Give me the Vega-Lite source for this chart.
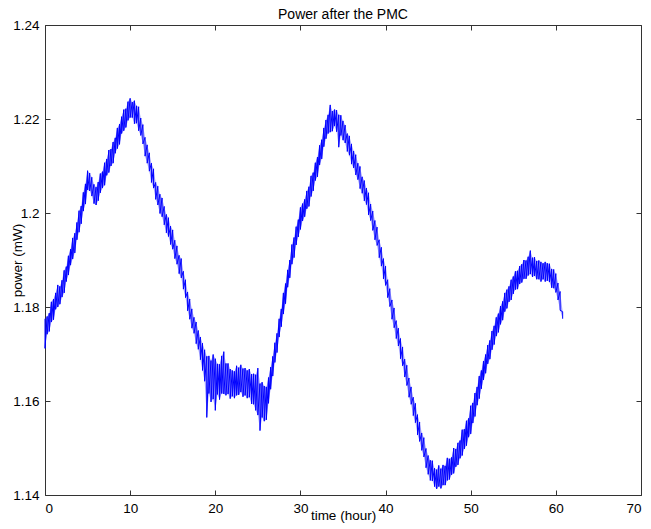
{
  "$schema": "https://vega.github.io/schema/vega-lite/v6.json",
  "width": 596,
  "height": 470,
  "autosize": {"type": "none"},
  "padding": {"left": 45, "top": 25, "right": 10, "bottom": 34},
  "background": "white",
  "title": {"text": "Power after the PMC", "font": "Liberation Sans", "fontSize": 14, "fontWeight": "normal", "color": "black", "offset": -4, "anchor": "middle"},
  "config": {
    "view": {"stroke": "#333333", "strokeWidth": 1},
    "axis": {"grid": false, "domain": false, "tickColor": "#333333", "tickSize": 5, "tickWidth": 1, "labelFont": "Liberation Sans", "labelFontSize": 13.5, "labelColor": "black", "titleFont": "Liberation Sans", "titleFontSize": 13.5, "titleFontWeight": "normal", "titleColor": "black"}
  },
  "data": {"values": [
{"t":0,"lo":1.1712,"hi":1.1775},{"t":0.25,"lo":1.1742,"hi":1.178},{"t":0.5,"lo":1.1748,"hi":1.1787},{"t":0.75,"lo":1.1768,"hi":1.1811},{"t":1,"lo":1.1773,"hi":1.1817},{"t":1.25,"lo":1.1795,"hi":1.183},{"t":1.5,"lo":1.18,"hi":1.1847},{"t":1.75,"lo":1.1806,"hi":1.1844},{"t":2,"lo":1.1821,"hi":1.1857},{"t":2.25,"lo":1.183,"hi":1.1878},{"t":2.5,"lo":1.1854,"hi":1.1886},{"t":2.75,"lo":1.1868,"hi":1.1909},{"t":3,"lo":1.1889,"hi":1.1923},{"t":3.25,"lo":1.1902,"hi":1.1947},{"t":3.5,"lo":1.1915,"hi":1.1957},{"t":3.75,"lo":1.1943,"hi":1.198},{"t":4,"lo":1.1959,"hi":1.2005},{"t":4.25,"lo":1.1977,"hi":1.2015},{"t":4.5,"lo":1.2004,"hi":1.2044},{"t":4.75,"lo":1.2019,"hi":1.2062},{"t":5,"lo":1.2049,"hi":1.209},{"t":5.25,"lo":1.2047,"hi":1.2085},{"t":5.5,"lo":1.2036,"hi":1.2076},{"t":5.75,"lo":1.202,"hi":1.2061},{"t":6,"lo":1.2017,"hi":1.2055},{"t":6.25,"lo":1.2026,"hi":1.2066},{"t":6.5,"lo":1.2043,"hi":1.2084},{"t":6.75,"lo":1.2053,"hi":1.2088},{"t":7,"lo":1.2059,"hi":1.2107},{"t":7.25,"lo":1.208,"hi":1.2115},{"t":7.5,"lo":1.2086,"hi":1.2134},{"t":7.75,"lo":1.21,"hi":1.2136},{"t":8,"lo":1.2106,"hi":1.2151},{"t":8.25,"lo":1.2127,"hi":1.216},{"t":8.5,"lo":1.2137,"hi":1.2181},{"t":8.75,"lo":1.2146,"hi":1.2189},{"t":9,"lo":1.2169,"hi":1.2205},{"t":9.25,"lo":1.2175,"hi":1.222},{"t":9.5,"lo":1.2182,"hi":1.2222},{"t":9.75,"lo":1.2197,"hi":1.2237},{"t":10,"lo":1.2203,"hi":1.2244},{"t":10.25,"lo":1.2203,"hi":1.2236},{"t":10.5,"lo":1.219,"hi":1.2239},{"t":10.75,"lo":1.2191,"hi":1.2228},{"t":11,"lo":1.2175,"hi":1.2226},{"t":11.25,"lo":1.2165,"hi":1.2202},{"t":11.5,"lo":1.2147,"hi":1.2188},{"t":11.75,"lo":1.2121,"hi":1.2161},{"t":12,"lo":1.2106,"hi":1.2145},{"t":12.25,"lo":1.2089,"hi":1.2128},{"t":12.5,"lo":1.2065,"hi":1.2106},{"t":12.75,"lo":1.2053,"hi":1.2094},{"t":13,"lo":1.2029,"hi":1.2065},{"t":13.25,"lo":1.2017,"hi":1.2057},{"t":13.5,"lo":1.1999,"hi":1.204},{"t":13.75,"lo":1.1992,"hi":1.2032},{"t":14,"lo":1.1975,"hi":1.2014},{"t":14.25,"lo":1.1958,"hi":1.1997},{"t":14.5,"lo":1.195,"hi":1.199},{"t":14.75,"lo":1.1933,"hi":1.1972},{"t":15,"lo":1.1923,"hi":1.1964},{"t":15.25,"lo":1.1903,"hi":1.1942},{"t":15.5,"lo":1.1891,"hi":1.193},{"t":15.75,"lo":1.1871,"hi":1.191},{"t":16,"lo":1.1862,"hi":1.1903},{"t":16.25,"lo":1.1838,"hi":1.1876},{"t":16.5,"lo":1.182,"hi":1.1858},{"t":16.75,"lo":1.1792,"hi":1.1832},{"t":17,"lo":1.1774,"hi":1.1817},{"t":17.25,"lo":1.1755,"hi":1.1796},{"t":17.5,"lo":1.1744,"hi":1.1778},{"t":17.75,"lo":1.1722,"hi":1.1768},{"t":18,"lo":1.171,"hi":1.175},{"t":18.25,"lo":1.1688,"hi":1.1736},{"t":18.5,"lo":1.1665,"hi":1.1723},{"t":18.75,"lo":1.1642,"hi":1.1709},{"t":19,"lo":1.1565,"hi":1.1695},{"t":19.25,"lo":1.1616,"hi":1.1696},{"t":19.5,"lo":1.1598,"hi":1.1686},{"t":19.75,"lo":1.1604,"hi":1.1699},{"t":20,"lo":1.158,"hi":1.169},{"t":20.25,"lo":1.1614,"hi":1.1679},{"t":20.5,"lo":1.1603,"hi":1.1678},{"t":20.75,"lo":1.1616,"hi":1.1696},{"t":21,"lo":1.1615,"hi":1.1705},{"t":21.25,"lo":1.1612,"hi":1.168},{"t":21.5,"lo":1.1615,"hi":1.168},{"t":21.75,"lo":1.1605,"hi":1.1668},{"t":22,"lo":1.161,"hi":1.1665},{"t":22.25,"lo":1.1606,"hi":1.1663},{"t":22.5,"lo":1.1612,"hi":1.1675},{"t":22.75,"lo":1.1613,"hi":1.1671},{"t":23,"lo":1.1619,"hi":1.1677},{"t":23.25,"lo":1.1609,"hi":1.1669},{"t":23.5,"lo":1.1612,"hi":1.167},{"t":23.75,"lo":1.1606,"hi":1.1665},{"t":24,"lo":1.1608,"hi":1.1668},{"t":24.25,"lo":1.1594,"hi":1.1657},{"t":24.5,"lo":1.1593,"hi":1.1658},{"t":24.75,"lo":1.158,"hi":1.1656},{"t":25,"lo":1.157,"hi":1.167},{"t":25.25,"lo":1.1537,"hi":1.1637},{"t":25.5,"lo":1.1565,"hi":1.164},{"t":25.75,"lo":1.1557,"hi":1.1632},{"t":26,"lo":1.156,"hi":1.163},{"t":26.25,"lo":1.1595,"hi":1.165},{"t":26.5,"lo":1.1625,"hi":1.1672},{"t":26.75,"lo":1.1653,"hi":1.1695},{"t":27,"lo":1.1682,"hi":1.1724},{"t":27.25,"lo":1.1703,"hi":1.1744},{"t":27.5,"lo":1.1736,"hi":1.1775},{"t":27.75,"lo":1.1758,"hi":1.1796},{"t":28,"lo":1.1785,"hi":1.183},{"t":28.25,"lo":1.1807,"hi":1.185},{"t":28.5,"lo":1.1842,"hi":1.1879},{"t":28.75,"lo":1.1862,"hi":1.19},{"t":29,"lo":1.1891,"hi":1.1933},{"t":29.25,"lo":1.1905,"hi":1.1948},{"t":29.5,"lo":1.1932,"hi":1.1971},{"t":29.75,"lo":1.1949,"hi":1.1986},{"t":30,"lo":1.1965,"hi":1.2012},{"t":30.25,"lo":1.1983,"hi":1.202},{"t":30.5,"lo":1.1992,"hi":1.2029},{"t":30.75,"lo":1.2009,"hi":1.2047},{"t":31,"lo":1.2014,"hi":1.2056},{"t":31.25,"lo":1.2035,"hi":1.2079},{"t":31.5,"lo":1.2047,"hi":1.2086},{"t":31.75,"lo":1.2069,"hi":1.2107},{"t":32,"lo":1.2077,"hi":1.2119},{"t":32.25,"lo":1.2102,"hi":1.2144},{"t":32.5,"lo":1.2115,"hi":1.2156},{"t":32.75,"lo":1.2141,"hi":1.2181},{"t":33,"lo":1.2158,"hi":1.2198},{"t":33.25,"lo":1.2169,"hi":1.2209},{"t":33.5,"lo":1.2172,"hi":1.223},{"t":33.75,"lo":1.2174,"hi":1.2217},{"t":34,"lo":1.2185,"hi":1.222},{"t":34.25,"lo":1.2173,"hi":1.2219},{"t":34.5,"lo":1.214,"hi":1.2209},{"t":34.75,"lo":1.2165,"hi":1.2208},{"t":35,"lo":1.2155,"hi":1.2196},{"t":35.25,"lo":1.2149,"hi":1.2187},{"t":35.5,"lo":1.2131,"hi":1.2169},{"t":35.75,"lo":1.2123,"hi":1.2164},{"t":36,"lo":1.2104,"hi":1.2147},{"t":36.25,"lo":1.2096,"hi":1.2132},{"t":36.5,"lo":1.2081,"hi":1.2124},{"t":36.75,"lo":1.2071,"hi":1.2106},{"t":37,"lo":1.2052,"hi":1.2099},{"t":37.25,"lo":1.2042,"hi":1.2077},{"t":37.5,"lo":1.2026,"hi":1.2069},{"t":37.75,"lo":1.2018,"hi":1.2053},{"t":38,"lo":1.1996,"hi":1.2043},{"t":38.25,"lo":1.1984,"hi":1.2019},{"t":38.5,"lo":1.1963,"hi":1.2004},{"t":38.75,"lo":1.1943,"hi":1.1984},{"t":39,"lo":1.1931,"hi":1.197},{"t":39.25,"lo":1.1905,"hi":1.1943},{"t":39.5,"lo":1.1887,"hi":1.1927},{"t":39.75,"lo":1.186,"hi":1.1903},{"t":40,"lo":1.1846,"hi":1.1887},{"t":40.25,"lo":1.182,"hi":1.1858},{"t":40.5,"lo":1.1801,"hi":1.1839},{"t":40.75,"lo":1.1774,"hi":1.1815},{"t":41,"lo":1.1756,"hi":1.1798},{"t":41.25,"lo":1.1733,"hi":1.1771},{"t":41.5,"lo":1.1717,"hi":1.1755},{"t":41.75,"lo":1.169,"hi":1.1733},{"t":42,"lo":1.1675,"hi":1.1715},{"t":42.25,"lo":1.1651,"hi":1.1689},{"t":42.5,"lo":1.1633,"hi":1.1676},{"t":42.75,"lo":1.1608,"hi":1.1649},{"t":43,"lo":1.1593,"hi":1.163},{"t":43.25,"lo":1.1569,"hi":1.1608},{"t":43.5,"lo":1.1554,"hi":1.1595},{"t":43.75,"lo":1.1528,"hi":1.1571},{"t":44,"lo":1.1514,"hi":1.1555},{"t":44.25,"lo":1.1495,"hi":1.1532},{"t":44.5,"lo":1.1481,"hi":1.1522},{"t":44.75,"lo":1.1458,"hi":1.1499},{"t":45,"lo":1.1444,"hi":1.1484},{"t":45.25,"lo":1.1431,"hi":1.1474},{"t":45.5,"lo":1.143,"hi":1.1473},{"t":45.75,"lo":1.1418,"hi":1.1457},{"t":46,"lo":1.1413,"hi":1.1454},{"t":46.25,"lo":1.1418,"hi":1.1463},{"t":46.5,"lo":1.1414,"hi":1.1456},{"t":46.75,"lo":1.1421,"hi":1.1464},{"t":47,"lo":1.1421,"hi":1.1462},{"t":47.25,"lo":1.1431,"hi":1.1479},{"t":47.5,"lo":1.1433,"hi":1.1477},{"t":47.75,"lo":1.1443,"hi":1.148},{"t":48,"lo":1.1446,"hi":1.15},{"t":48.25,"lo":1.146,"hi":1.1498},{"t":48.5,"lo":1.1464,"hi":1.1511},{"t":48.75,"lo":1.1478,"hi":1.1516},{"t":49,"lo":1.1484,"hi":1.1539},{"t":49.25,"lo":1.1498,"hi":1.154},{"t":49.5,"lo":1.1505,"hi":1.1558},{"t":49.75,"lo":1.1523,"hi":1.1563},{"t":50,"lo":1.153,"hi":1.159},{"t":50.25,"lo":1.1553,"hi":1.1596},{"t":50.5,"lo":1.1567,"hi":1.1617},{"t":50.75,"lo":1.1591,"hi":1.163},{"t":51,"lo":1.1605,"hi":1.1653},{"t":51.25,"lo":1.1626,"hi":1.1665},{"t":51.5,"lo":1.1645,"hi":1.1685},{"t":51.75,"lo":1.1659,"hi":1.1699},{"t":52,"lo":1.1679,"hi":1.1719},{"t":52.25,"lo":1.1689,"hi":1.1729},{"t":52.5,"lo":1.1709,"hi":1.1749},{"t":52.75,"lo":1.172,"hi":1.176},{"t":53,"lo":1.1738,"hi":1.1778},{"t":53.25,"lo":1.1746,"hi":1.1786},{"t":53.5,"lo":1.1763,"hi":1.1802},{"t":53.75,"lo":1.1772,"hi":1.1812},{"t":54,"lo":1.179,"hi":1.183},{"t":54.25,"lo":1.1797,"hi":1.1837},{"t":54.5,"lo":1.1811,"hi":1.1844},{"t":54.75,"lo":1.1815,"hi":1.1858},{"t":55,"lo":1.1828,"hi":1.1865},{"t":55.25,"lo":1.1837,"hi":1.1876},{"t":55.5,"lo":1.1838,"hi":1.1877},{"t":55.75,"lo":1.1849,"hi":1.1887},{"t":56,"lo":1.1852,"hi":1.1891},{"t":56.25,"lo":1.186,"hi":1.19},{"t":56.5,"lo":1.186,"hi":1.1899},{"t":56.75,"lo":1.1867,"hi":1.1907},{"t":57,"lo":1.187,"hi":1.192},{"t":57.25,"lo":1.1864,"hi":1.1905},{"t":57.5,"lo":1.1866,"hi":1.1906},{"t":57.75,"lo":1.1859,"hi":1.1898},{"t":58,"lo":1.1859,"hi":1.1899},{"t":58.25,"lo":1.1854,"hi":1.1896},{"t":58.5,"lo":1.1859,"hi":1.1893},{"t":58.75,"lo":1.1854,"hi":1.1896},{"t":59,"lo":1.1856,"hi":1.1893},{"t":59.25,"lo":1.1853,"hi":1.1892},{"t":59.5,"lo":1.1841,"hi":1.1881},{"t":59.75,"lo":1.184,"hi":1.188},{"t":60,"lo":1.1831,"hi":1.1871},{"t":60.25,"lo":1.1815,"hi":1.1851},{"t":60.5,"lo":1.1793,"hi":1.1833},{"t":60.8,"lo":1.1775,"hi":1.179}
  ]},
  "layer": [
    {
      "mark": {"type": "area", "color": "#0000ff", "opacity": 0.35},
      "encoding": {
        "x": {"field": "t", "type": "quantitative", "scale": {"domain": [0, 70], "nice": false, "zero": false},
              "axis": {"orient": "bottom", "values": [0,10,20,30,40,50,60,70], "ticks": false, "title": "time (hour)", "labelPadding": 6, "titlePadding": -6}},
        "y": {"field": "lo", "type": "quantitative", "scale": {"domain": [1.14, 1.24], "nice": false, "zero": false},
              "axis": {"orient": "left", "values": [1.14,1.16,1.18,1.2,1.22,1.24], "format": "~g", "ticks": false, "title": "power (mW)", "labelPadding": 6, "titlePadding": -12}},
        "y2": {"field": "hi"}
      }
    },
    {
      "transform": [{"fold": ["hi", "lo"], "as": ["k", "p"]}],
      "mark": {"type": "line", "color": "#0000ff", "strokeWidth": 1},
      "encoding": {
        "x": {"field": "t", "type": "quantitative", "scale": {"domain": [0, 70], "nice": false, "zero": false},
              "axis": {"orient": "top", "offset": -470, "values": [0,10,20,30,40,50,60,70], "labels": false, "title": null}},
        "y": {"field": "p", "type": "quantitative", "scale": {"domain": [1.14, 1.24], "nice": false, "zero": false},
              "axis": {"orient": "right", "offset": -596, "values": [1.14,1.16,1.18,1.2,1.22,1.24], "labels": false, "title": null}}
      }
    },
    {
      "mark": {"type": "line", "opacity": 0},
      "encoding": {
        "x": {"field": "t", "type": "quantitative", "scale": {"domain": [0, 70], "nice": false, "zero": false},
              "axis": {"orient": "bottom", "offset": -470, "values": [0,10,20,30,40,50,60,70], "labels": false, "title": null}},
        "y": {"field": "lo", "type": "quantitative", "scale": {"domain": [1.14, 1.24], "nice": false, "zero": false},
              "axis": {"orient": "left", "offset": -596, "values": [1.14,1.16,1.18,1.2,1.22,1.24], "labels": false, "title": null}}
      }
    }
  ],
  "resolve": {"axis": {"x": "independent", "y": "independent"}}
}
